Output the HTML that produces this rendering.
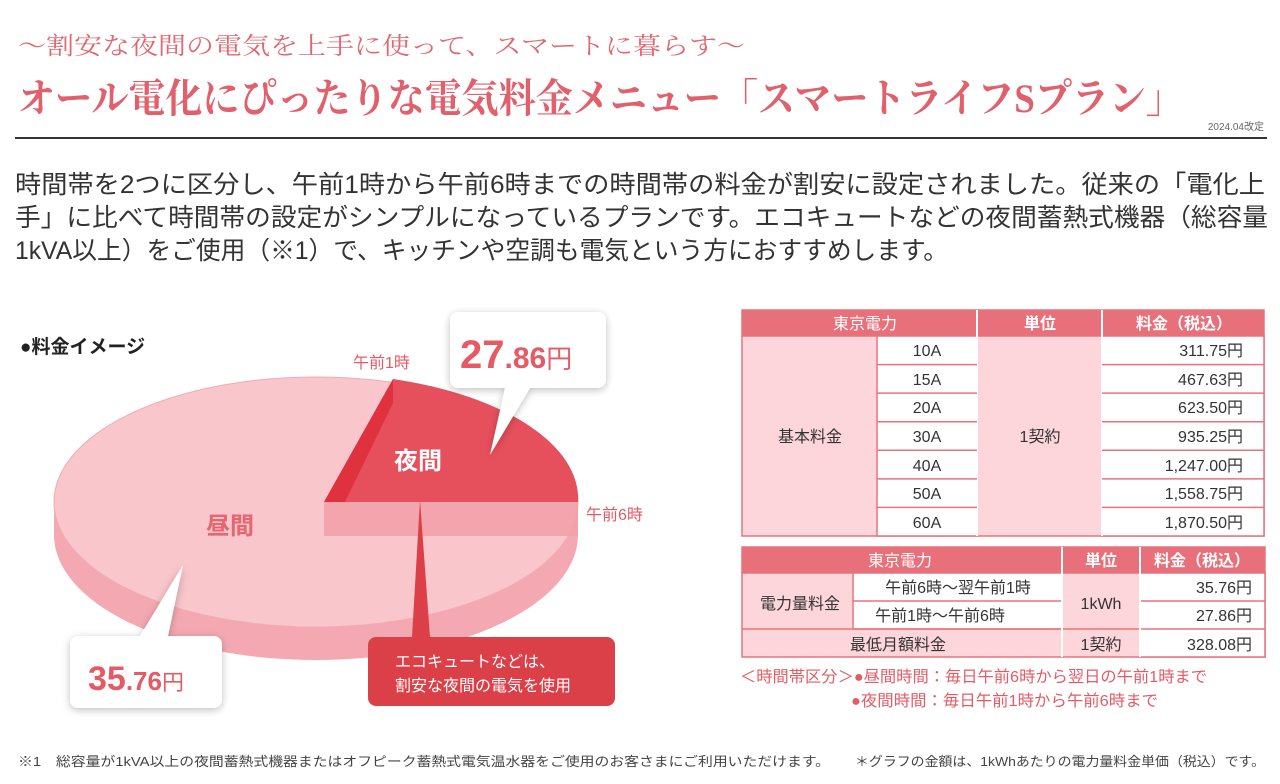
<!DOCTYPE html>
<html><head><meta charset="utf-8"><style>
html,body{margin:0;padding:0;background:#fff}
svg{display:block}
text{font-family:"Liberation Sans","Noto Sans CJK JP",sans-serif}
.serif{font-family:"Liberation Serif","Noto Serif CJK SC",serif}
</style></head><body>
<svg width="1280" height="784" viewBox="0 0 1280 784" xmlns="http://www.w3.org/2000/svg">
<defs>
<filter id="sh" x="-20%" y="-20%" width="140%" height="140%"><feDropShadow dx="0" dy="2" stdDeviation="4" flood-color="#000" flood-opacity="0.25"/></filter>
</defs>
<text class="serif" x="18" y="54" font-size="24" fill="#e06872" textLength="727" lengthAdjust="spacingAndGlyphs">～割安な夜間の電気を上手に使って、スマートに暮らす～</text>
<text class="serif" x="18" y="112" font-size="40" font-weight="bold" fill="#e0606c" textLength="1165" lengthAdjust="spacingAndGlyphs">オール電化にぴったりな電気料金メニュー「スマートライフSプラン」</text>
<text x="1264" y="130" font-size="10" fill="#666" text-anchor="end">2024.04改定</text>
<rect x="15" y="137" width="1252" height="2" fill="#333"/>
<g font-size="25" fill="#333">
<text x="15" y="193" textLength="1250" lengthAdjust="spacingAndGlyphs">時間帯を2つに区分し、午前1時から午前6時までの時間帯の料金が割安に設定されました。従来の「電化上</text>
<text x="15" y="226" textLength="1253" lengthAdjust="spacingAndGlyphs">手」に比べて時間帯の設定がシンプルになっているプランです。エコキュートなどの夜間蓄熱式機器（総容量</text>
<text x="15" y="259" textLength="933" lengthAdjust="spacingAndGlyphs">1kVA以上）をご使用（※1）で、キッチンや空調も電気という方におすすめします。</text>
</g>
<text x="20" y="353" font-size="19" font-weight="bold" fill="#222">●料金イメージ</text>
<ellipse cx="316" cy="535" rx="262" ry="125" fill="#f4a9b2"/>
<rect x="54" y="502" width="524" height="33" fill="#f4a9b2"/>
<ellipse cx="316" cy="502" rx="262" ry="125" fill="#f9c6cc" stroke="#f2aab2" stroke-width="1"/>
<path d="M324 502 L393 379 A262 125 0 0 1 578 502 Z" fill="#e6505c"/>
<path d="M324 502 L393 379 L393 403 L345 502 Z" fill="#e0313f"/>
<rect x="324" y="502" width="254" height="34" fill="#f2a0a9" opacity="0.9"/>
<text x="353" y="368" font-size="16" fill="#e45b66">午前1時</text>
<text x="586" y="520" font-size="16" fill="#e45b66">午前6時</text>
<text x="418" y="469" font-size="24" font-weight="bold" fill="#fff" text-anchor="middle">夜間</text>
<text x="230" y="534" font-size="24" font-weight="bold" fill="#e8646e" text-anchor="middle">昼間</text>
<g filter="url(#sh)">
<path d="M458 312 H598 a8 8 0 0 1 8 8 V380 a8 8 0 0 1 -8 8 H530 L490 455 L505 388 H458 a8 8 0 0 1 -8 -8 V320 a8 8 0 0 1 8 -8 Z" fill="#fff"/>
<path d="M78 636 H140 L183 565 L168 636 H214 a8 8 0 0 1 8 8 V700 a8 8 0 0 1 -8 8 H78 a8 8 0 0 1 -8 -8 V644 a8 8 0 0 1 8 -8 Z" fill="#fff"/>
</g>
<text x="460" y="368" font-size="40" fill="#e45b66" font-weight="bold">27<tspan font-size="30">.86</tspan><tspan font-size="26" font-weight="normal">円</tspan></text>
<text x="88" y="690" font-size="34" fill="#e45b66" font-weight="bold">35<tspan font-size="26">.76</tspan><tspan font-size="22" font-weight="normal">円</tspan></text>
<path d="M376 637 H412 L420 500 L430 637 H607 a8 8 0 0 1 8 8 V698 a8 8 0 0 1 -8 8 H376 a8 8 0 0 1 -8 -8 V645 a8 8 0 0 1 8 -8 Z" fill="#db4049"/>
<text x="395" y="667" font-size="16" fill="#fff">エコキュートなどは、</text>
<text x="395" y="691" font-size="16" fill="#fff">割安な夜間の電気を使用</text>
<g stroke="#e8737c" stroke-width="1.5">
<rect x="742" y="310" width="522" height="26" fill="#e8707a"/>
<rect x="742" y="336" width="522" height="200" fill="#fcd6db"/>
<rect x="877" y="336" width="100" height="200" fill="#fff"/>
<rect x="1102" y="336" width="162" height="200" fill="#fff"/>
<line x1="977" y1="310" x2="977" y2="536" stroke="#fff" stroke-width="2"/>
<line x1="1102" y1="310" x2="1102" y2="536" stroke="#fff" stroke-width="2"/>
<line x1="877" y1="364.6" x2="977" y2="364.6"/><line x1="1102" y1="364.6" x2="1264" y2="364.6"/>
<line x1="877" y1="393.1" x2="977" y2="393.1"/><line x1="1102" y1="393.1" x2="1264" y2="393.1"/>
<line x1="877" y1="421.7" x2="977" y2="421.7"/><line x1="1102" y1="421.7" x2="1264" y2="421.7"/>
<line x1="877" y1="450.3" x2="977" y2="450.3"/><line x1="1102" y1="450.3" x2="1264" y2="450.3"/>
<line x1="877" y1="478.9" x2="977" y2="478.9"/><line x1="1102" y1="478.9" x2="1264" y2="478.9"/>
<line x1="877" y1="507.4" x2="977" y2="507.4"/><line x1="1102" y1="507.4" x2="1264" y2="507.4"/>
</g>
<g font-size="16" fill="#fff" text-anchor="middle">
<text x="865" y="329">東京電力</text><text x="1040" y="329" font-weight="bold">単位</text><text x="1184" y="329" font-weight="bold">料金（税込）</text>
</g>
<g font-size="16" fill="#333" text-anchor="middle">
<text x="810" y="442">基本料金</text><text x="1040" y="442">1契約</text>
<text x="927" y="356">10A</text><text x="927" y="385">15A</text><text x="927" y="413">20A</text><text x="927" y="442">30A</text><text x="927" y="471">40A</text><text x="927" y="499">50A</text><text x="927" y="528">60A</text>
</g>
<g font-size="16" fill="#333" text-anchor="end">
<text x="1243" y="356">311.75円</text><text x="1243" y="385">467.63円</text><text x="1243" y="413">623.50円</text><text x="1243" y="442">935.25円</text><text x="1243" y="471">1,247.00円</text><text x="1243" y="499">1,558.75円</text><text x="1243" y="528">1,870.50円</text>
</g>
<g stroke="#e8737c" stroke-width="1.5">
<rect x="742" y="547" width="523" height="26" fill="#e8707a"/>
<rect x="742" y="573" width="523" height="84" fill="#fcd6db"/>
<rect x="853" y="573" width="209" height="56" fill="#fff"/>
<rect x="1140" y="573" width="125" height="84" fill="#fff"/>
<line x1="853" y1="601" x2="1062" y2="601"/><line x1="1140" y1="601" x2="1265" y2="601"/>
<line x1="742" y1="629" x2="1265" y2="629"/>
<line x1="1062" y1="547" x2="1062" y2="657" stroke="#fff" stroke-width="2"/>
<line x1="1140" y1="547" x2="1140" y2="657" stroke="#fff" stroke-width="2"/>
</g>
<g font-size="16" fill="#fff" text-anchor="middle">
<text x="900" y="566">東京電力</text><text x="1101" y="566" font-weight="bold">単位</text><text x="1202" y="566" font-weight="bold">料金（税込）</text>
</g>
<g font-size="16" fill="#333" text-anchor="middle">
<text x="800" y="609">電力量料金</text><text x="1101" y="609">1kWh</text>
<text x="958" y="593">午前6時～翌午前1時</text><text x="940" y="621">午前1時～午前6時</text>
<text x="898" y="650">最低月額料金</text><text x="1101" y="650">1契約</text>
</g>
<g font-size="16" fill="#333" text-anchor="end">
<text x="1252" y="593">35.76円</text><text x="1252" y="621">27.86円</text><text x="1252" y="650">328.08円</text>
</g>
<text x="740" y="682" font-size="16" fill="#e45b66" textLength="467" lengthAdjust="spacingAndGlyphs">＜時間帯区分＞●昼間時間：毎日午前6時から翌日の午前1時まで</text>
<text x="851" y="706" font-size="16" fill="#e45b66" textLength="307" lengthAdjust="spacingAndGlyphs">●夜間時間：毎日午前1時から午前6時まで</text>
<text x="18" y="766" font-size="13" fill="#444" textLength="812" lengthAdjust="spacingAndGlyphs">※1　総容量が1kVA以上の夜間蓄熱式機器またはオフピーク蓄熱式電気温水器をご使用のお客さまにご利用いただけます。</text>
<text x="855" y="766" font-size="13" fill="#444" textLength="410" lengthAdjust="spacingAndGlyphs">＊グラフの金額は、1kWhあたりの電力量料金単価（税込）です。</text>
</svg>
</body></html>
